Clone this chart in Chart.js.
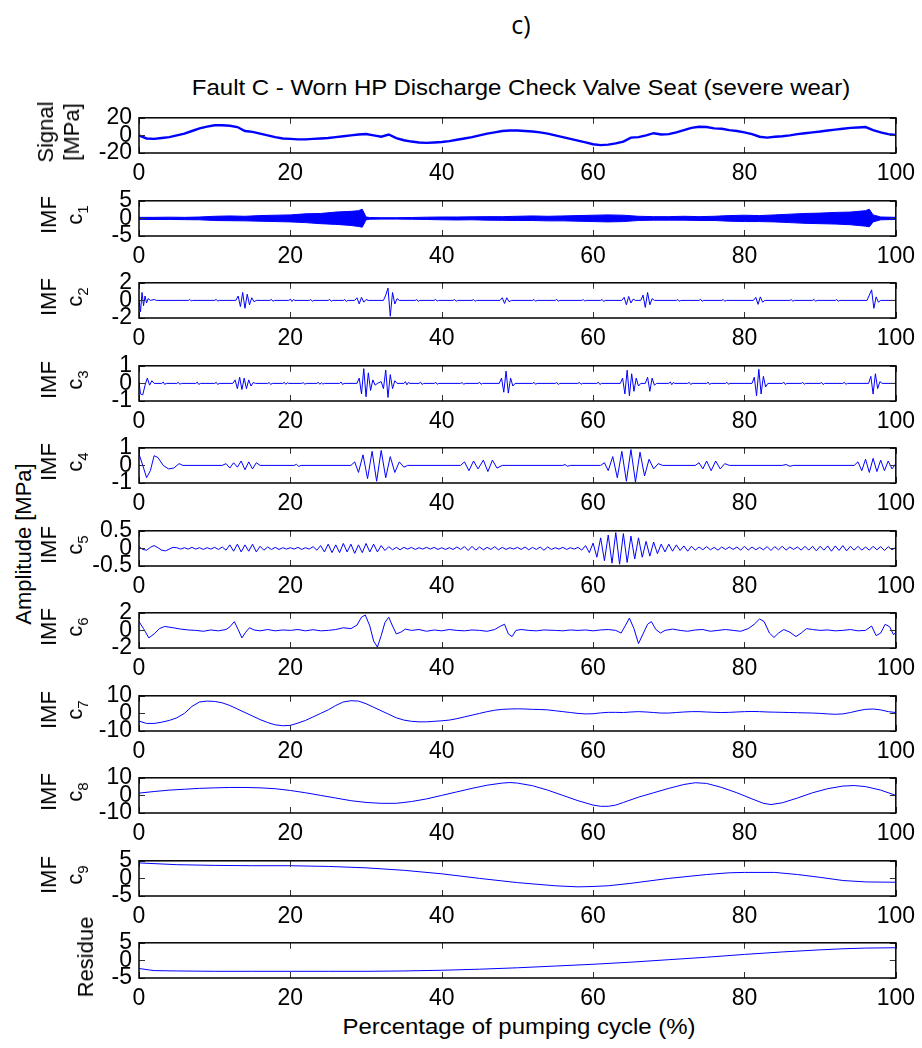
<!DOCTYPE html>
<html>
<head>
<meta charset="utf-8">
<title>Fault C - EMD</title>
<script src="https://cdn.jsdelivr.net/npm/chart.js"></script>
<style>
  body { margin: 0; background: #fff; }
  #wrap { position: relative; width: 922px; height: 1048px; overflow: hidden; font-family: 'Liberation Sans', Arial, sans-serif; color: #000; }
  #wrap canvas { position: absolute; left: 0; }
  .tag { position: absolute; left: 521px; top: 24px; transform: translate(-50%, -50%); font: 25px 'Open Sans', sans-serif; }
  .title, .xlab { position: absolute; white-space: nowrap; font-size: 22px; transform: translate(-50%, -50%) scaleX(1.09); }
  .title { left: 521px; top: 88px; }
  .xlab { left: 519px; top: 1027px; }
  .ylab { position: absolute; white-space: nowrap; font-size: 22px; line-height: 26px; text-align: center; transform: translate(-50%, -50%) rotate(-90deg); }
  .ylab sub { font-size: 15px; vertical-align: -6px; line-height: 0; }
</style>
</head>
<body>
<div id="wrap">
  <div class="tag">c)</div>
  <div class="title">Fault C - Worn HP Discharge Check Valve Seat (severe wear)</div>
  <div class="ylab" style="left:24px; top:544px;">Amplitude [MPa]</div>
  <div class="xlab">Percentage of pumping cycle (%)</div>
</div>
<script>
// pressure signal, one sample per 1 % of cycle
const signal = [0,-3.5,-4,-3,-2,0,2,5,8,10,
  11.5,11.5,11,9.5,5,4,2,0,-2,-3.5,
  -4,-4.5,-4.5,-4,-3.5,-3,-2,-1,0,1,
  1.5,0,-1.5,1,-3,-5.5,-7,-8,-8.5,-8,
  -7.5,-6.5,-5,-3.5,-2,0,2,3.5,5,5.5,
  5.5,5,4.5,3.5,2,0,-2,-4,-6,-8,
  -10,-11,-10.5,-9,-7,-2.5,-2,0,2.5,1,
  1.5,3.5,6,8.5,9.8,9.5,8,7.5,6,5,
  3.5,1.5,-1.5,-2.5,-1.5,-1,0,1.5,2.5,3.5,
  4.4,5.5,6.5,7.5,8.5,9,9.5,6,3.5,1.5,
  0.5];

// IMF c1 is a dense high-frequency band: upper/lower envelope
const c1X  = [0,2,4,6,8,10,12,14,16,18,20,22,24,26,28,29,29.5,30,30.5,32,34,36,38,40,42,44,46,48,50,52,54,56,58,60,62,64,66,68,70,72,74,76,78,80,82,84,86,88,90,92,94,95,96,96.5,97,98,100];
const c1Hi = [0.3,0.3,0.35,0.3,0.4,0.6,0.7,0.6,0.8,0.9,1.0,1.3,1.4,1.8,2.0,2.2,2.6,0.4,0.25,0.2,0.2,0.25,0.35,0.4,0.4,0.45,0.5,0.5,0.6,0.7,0.6,0.7,0.8,0.9,1.0,0.9,0.6,0.5,0.5,0.6,0.5,0.6,0.8,0.9,0.8,1.0,1.2,1.4,1.5,1.7,1.8,2.0,2.2,2.6,1.0,0.4,0.3];
const c1Lo = [-0.3,-0.3,-0.3,-0.35,-0.4,-0.6,-0.65,-0.7,-0.8,-0.9,-1.0,-1.2,-1.5,-1.7,-2.0,-2.3,-2.5,-0.4,-0.25,-0.2,-0.2,-0.25,-0.3,-0.4,-0.45,-0.4,-0.5,-0.55,-0.6,-0.6,-0.7,-0.7,-0.8,-0.9,-1.0,-0.9,-0.6,-0.5,-0.5,-0.5,-0.6,-0.6,-0.8,-0.9,-0.9,-1.0,-1.2,-1.4,-1.5,-1.6,-1.8,-2.0,-2.2,-2.4,-1.0,-0.4,-0.3];

const c2 = [[0,0],[0.2,-1.3],[0.4,0.9],[0.6,-0.6],[0.8,0.5],[1.0,-0.3],[1.2,0.2],[1.5,0],[2.0,0.1],[2.3,0],
  [6.5,0],[6.7,0.1],[6.9,-0.05],[7.1,0],[10.0,0],[10.2,0.12],[10.4,-0.08],[10.6,0],
  [12.8,0],[13.1,0.5],[13.4,-0.7],[13.7,0.9],[14.0,-0.9],[14.3,0.7],[14.6,-0.5],[14.9,0.3],[15.2,-0.15],[15.5,0],
  [17.3,0],[17.5,0.12],[17.7,-0.1],[17.9,0],[19.8,0],[20.0,0.15],[20.2,-0.12],[20.4,0.1],[20.6,0],
  [22.5,0],[22.7,0.1],[22.9,-0.1],[23.1,0],[25.0,0],[25.2,0.12],[25.4,-0.1],[25.6,0],
  [27.0,0],[27.2,0.1],[27.4,-0.12],[27.6,0],
  [28.5,0],[28.8,0.3],[29.1,-0.4],[29.4,0.35],[29.7,-0.2],[30.0,0.1],[30.3,0],
  [32.3,0],[32.6,0.6],[32.9,1.4],[33.2,-1.8],[33.5,0.9],[33.8,-0.4],[34.1,0.2],[34.4,0],
  [36.5,0],[36.7,0.1],[36.9,-0.1],[37.1,0],[39.0,0],[39.2,0.12],[39.4,-0.08],[39.6,0],
  [41.5,0],[41.7,0.1],[41.9,-0.1],[42.1,0],[44.0,0],[44.2,0.1],[44.4,-0.1],[44.6,0],
  [47.7,0],[48.0,0.3],[48.3,-0.35],[48.6,0.3],[48.9,-0.15],[49.2,0],
  [52.0,0],[52.2,0.1],[52.4,-0.1],[52.6,0],[55.0,0],[55.2,0.12],[55.4,-0.1],[55.6,0],
  [58.5,0],[58.7,0.1],[58.9,-0.08],[59.1,0],[61.0,0],[61.2,0.1],[61.4,-0.12],[61.6,0],
  [63.8,0],[64.1,0.35],[64.4,-0.5],[64.7,0.45],[65.0,-0.3],[65.3,0.15],[65.6,0],
  [66.3,0],[66.6,0.6],[66.9,-0.8],[67.2,0.9],[67.5,-0.5],[67.8,0.2],[68.1,0],
  [71.0,0],[71.2,0.1],[71.4,-0.1],[71.6,0],[74.0,0],[74.2,0.12],[74.4,-0.1],[74.6,0],
  [77.0,0],[77.2,0.1],[77.4,-0.1],[77.6,0],
  [81.2,0],[81.5,0.35],[81.8,-0.45],[82.1,0.4],[82.4,-0.2],[82.7,0],
  [86.0,0],[86.2,0.1],[86.4,-0.1],[86.6,0],[89.0,0],[89.2,0.12],[89.4,-0.1],[89.6,0],
  [92.0,0],[92.2,0.1],[92.4,-0.1],[92.6,0],
  [96.2,0],[96.5,0.6],[96.8,1.2],[97.1,-0.9],[97.4,0.4],[97.7,-0.2],[98.0,0],[100,0]];

const c3 = [[0,0.1],[0.2,-0.6],[0.5,-0.65],[0.8,-0.1],[1.1,0.3],[1.4,-0.1],[1.7,0.15],[2.0,0],
  [3.0,0],[3.2,0.08],[3.4,-0.06],[3.6,0],[5.0,0],[5.2,0.06],[5.4,-0.05],[5.6,0],
  [7.5,0],[7.7,0.07],[7.9,-0.06],[8.1,0],[10.0,0],[10.2,0.06],[10.4,-0.06],[10.6,0],
  [12.4,0],[12.7,0.2],[13.0,-0.3],[13.3,0.35],[13.6,-0.35],[13.9,0.3],[14.2,-0.3],[14.5,0.2],[14.8,-0.15],[15.1,0.05],[15.4,0],
  [17.0,0],[17.2,0.05],[17.4,-0.06],[17.6,0],[19.0,0],[19.2,0.06],[19.4,-0.05],[19.6,0.04],[19.8,0],
  [21.5,0],[21.7,0.05],[21.9,-0.05],[22.1,0],[23.5,0],[23.7,0.06],[23.9,-0.05],[24.1,0.04],[24.3,-0.04],[24.5,0],
  [26.5,0],[26.7,0.08],[26.9,-0.06],[27.1,0],
  [28.8,0],[29.1,0.3],[29.4,-0.6],[29.7,0.84],[30.0,-0.76],[30.3,0.6],[30.6,-0.4],[30.9,0.2],[31.2,-0.1],[31.5,0],
  [32.0,0.1],[32.3,-0.3],[32.6,0.76],[32.9,-0.8],[33.2,0.5],[33.5,-0.3],[33.8,0.15],[34.1,0],
  [35.0,0],[35.2,0.1],[35.4,-0.08],[35.6,0.06],[35.8,0],[37.0,0],[37.2,0.07],[37.4,-0.06],[37.6,0],
  [39.0,0],[39.2,0.06],[39.4,-0.05],[39.6,0],[42.5,0],[42.7,0.05],[42.9,-0.05],[43.1,0],
  [44.8,0],[45.0,0.06],[45.2,-0.05],[45.4,0],
  [47.6,0],[47.9,0.3],[48.2,-0.5],[48.5,0.7],[48.8,-0.55],[49.1,0.3],[49.4,-0.15],[49.7,0],
  [52.0,0],[52.2,0.06],[52.4,-0.05],[52.6,0],[55.0,0],[55.2,0.05],[55.4,-0.06],[55.6,0],
  [58.0,0],[58.2,0.06],[58.4,-0.05],[58.6,0],[60.5,0],[60.7,0.07],[60.9,-0.06],[61.1,0],
  [63.6,0],[63.9,0.3],[64.2,-0.6],[64.5,0.75],[64.8,-0.7],[65.1,0.55],[65.4,-0.45],[65.7,0.3],[66.0,-0.15],[66.3,0],
  [66.9,0],[67.2,0.35],[67.5,-0.45],[67.8,0.3],[68.1,-0.1],[68.4,0],
  [70.0,0],[70.2,0.08],[70.4,-0.07],[70.6,0.05],[70.8,0],[72.5,0],[72.7,0.06],[72.9,-0.06],[73.1,0],
  [75.0,0],[75.2,0.07],[75.4,-0.06],[75.6,0],[77.5,0],[77.7,0.06],[77.9,-0.05],[78.1,0],
  [81.0,0],[81.3,0.35],[81.6,-0.7],[81.9,0.8],[82.2,-0.6],[82.5,0.4],[82.8,-0.2],[83.1,0],
  [85.0,0],[85.2,0.07],[85.4,-0.06],[85.6,0],[87.5,0],[87.7,0.06],[87.9,-0.05],[88.1,0],
  [90.0,0],[90.2,0.05],[90.4,-0.06],[90.6,0],[93.0,0],[93.2,0.06],[93.4,-0.05],[93.6,0],
  [96.4,0],[96.7,0.4],[97.0,-0.6],[97.3,0.55],[97.6,-0.3],[97.9,0.1],[98.2,0],[100,0]];

const c4 = [[0,0.64],[0.5,0],[1.0,-0.7],[1.5,-0.3],[2.0,0.55],[2.5,0.45],[3.2,0],[3.9,-0.2],[4.6,-0.15],[5.3,0.1],[5.8,0],
  [11.0,0],[11.5,0.1],[12.0,-0.15],[12.5,0.15],[13.0,-0.1],[13.5,0.25],[14.0,-0.25],[14.5,0.2],[15.0,-0.2],[15.5,0.15],[16.0,0],
  [20.5,0],[20.8,0.06],[21.1,-0.06],[21.4,0],
  [28.0,0],[28.5,0.2],[29.0,-0.4],[29.6,0.6],[30.2,-0.75],[30.8,0.8],[31.4,-0.9],[32.0,0.85],[32.6,-0.7],[33.2,0.5],[33.8,-0.4],[34.4,0.2],[35.0,-0.1],[35.5,0],
  [42.5,0],[43.0,0.2],[43.6,-0.3],[44.2,0.25],[44.8,-0.2],[45.5,0.3],[46.1,-0.35],[46.7,0.3],[47.3,-0.15],[48.0,0],
  [56.0,0],[56.3,0.05],[56.6,-0.05],[57.0,0],
  [61.0,0],[61.5,0.15],[62.0,-0.3],[62.6,0.5],[63.2,-0.7],[63.8,0.8],[64.4,-0.9],[65.0,0.9],[65.6,-0.95],[66.2,0.75],[66.8,-0.6],[67.4,0.35],[68.0,-0.2],[68.6,0.1],[69.2,0],
  [73.5,0],[74.0,0.15],[74.5,-0.2],[75.0,0.25],[75.6,-0.3],[76.2,0.25],[76.8,-0.2],[77.4,0.1],[78.0,0],
  [85.0,0],[85.5,0.05],[86.0,-0.05],[86.5,0],
  [94.5,0],[95.0,0.2],[95.5,-0.3],[96.0,0.35],[96.5,-0.4],[97.0,0.4],[97.5,-0.35],[98.0,0.3],[98.5,-0.3],[99.0,0.25],[99.5,-0.2],[100,0.1]];

// IMF c5, one sample per 0.5 % of cycle
const c5 = [0.05,
  -0.03,-0.05,0.03,0.08,0.02,-0.05,-0.07,-0.02,0.03,0.02,-0.02,0.02,-0.02,0.03,-0.02,0.02,-0.03,0.02,-0.02,0.03,
  -0.03,0.04,-0.05,0.1,-0.08,0.12,-0.1,0.1,-0.08,0.12,-0.1,0.06,-0.05,0.04,-0.03,0.03,-0.03,0.02,-0.02,0.02,
  -0.02,0.03,-0.03,0.02,-0.02,0.05,-0.05,0.08,-0.1,0.12,-0.12,0.1,-0.12,0.14,-0.1,0.12,-0.14,0.1,-0.12,0.14,
  -0.1,0.12,-0.1,0.08,-0.06,0.05,-0.04,0.03,-0.04,0.03,-0.02,0.03,-0.03,0.02,-0.02,0.03,-0.02,0.03,-0.03,0.02,
  -0.03,0.02,-0.03,0.04,-0.03,0.05,-0.06,0.06,-0.05,0.04,-0.04,0.03,-0.03,0.05,-0.04,0.03,-0.03,0.02,-0.02,0.03,
  -0.03,0.04,-0.04,0.03,-0.03,0.04,-0.05,0.04,-0.03,0.02,-0.02,0.03,-0.03,0.02,-0.02,0.03,-0.05,0.08,-0.12,0.15,
  -0.25,0.3,-0.35,0.38,-0.42,0.45,-0.45,0.42,-0.4,0.35,-0.3,0.3,-0.25,0.2,-0.22,0.18,-0.15,0.12,-0.1,0.12,
  -0.08,0.1,-0.06,0.07,-0.08,0.06,-0.05,0.04,-0.04,0.05,-0.04,0.03,-0.05,0.04,-0.03,0.04,-0.03,0.04,-0.05,0.06,
  -0.05,0.04,-0.04,0.03,-0.04,0.05,-0.06,0.05,-0.04,0.06,-0.05,0.04,-0.03,0.04,-0.05,0.06,-0.05,0.06,-0.07,0.06,
  -0.05,0.07,-0.08,0.07,-0.06,0.08,-0.07,0.06,-0.05,0.06,-0.05,0.04,-0.05,0.06,-0.04,0.05,-0.06,0.05,-0.04,0.03];

const c6 = [[0,1.0],[0.6,0.2],[1.3,-0.85],[2.0,-0.4],[2.7,0.2],[3.4,0.45],[4.5,0.3],[5.5,0.15],[6.5,0.05],[7.5,0],
  [8.5,-0.1],[9.5,0.05],[10.5,-0.05],[11.5,0.1],[12.0,0.4],[12.6,1.0],[13.1,0.1],[13.6,-0.85],[14.1,-0.2],[14.6,0.3],[15.2,0.05],
  [16,-0.05],[17,0.1],[18,-0.05],[19,0.05],[20,0],[21,0.1],[22,-0.05],[23,0.08],[24,-0.05],[25,0],[26,0.1],[27,0.3],[28,0.2],
  [28.8,0.6],[29.4,1.5],[29.9,1.75],[30.5,0.5],[31.0,-1.2],[31.5,-1.9],[32.0,-0.6],[32.5,0.9],[33.0,1.5],[33.5,0.5],[34.0,-0.4],[34.6,-0.2],[35.2,0.15],
  [36,0],[37,0.1],[38,-0.1],[39,0.05],[40,-0.05],[41,0.1],[42,0],[43,-0.05],[44,0.05],[45,0],[46,-0.1],[47,0.1],
  [47.8,0.5],[48.3,0.7],[48.8,-0.4],[49.3,-0.7],[49.8,0],[50.5,0.1],[51.5,0],[52.5,-0.05],[53.5,0.05],
  [55,0],[56,-0.05],[57,0.05],[58,0],[59,0.05],[60,-0.05],[61,0.05],[62,0.1],[63,0],
  [63.7,-0.3],[64.3,0.6],[64.8,1.4],[65.4,0.2],[66.0,-1.5],[66.6,-0.4],[67.2,0.7],[67.7,1.0],[68.3,0.1],[68.9,-0.3],[69.5,0],
  [70.5,0.15],[71.5,0],[72.5,-0.1],[73.5,0.05],[74.5,0.1],[75.5,-0.1],[76.5,0],[77.5,0.1],[78.5,0],[79.5,-0.1],
  [80.5,0.2],[81.3,0.7],[82.0,1.3],[82.6,1.0],[83.3,-0.3],[83.9,-0.8],[84.5,-0.3],[85.2,0.1],[86.0,-0.2],[86.8,-0.7],[87.5,-0.3],[88.2,0.2],
  [89,0.1],[90,0],[91,0.05],[92,-0.05],[93,0],[94,0.1],[95,-0.05],[96,0],
  [96.8,0.5],[97.4,-0.6],[98.0,-0.3],[98.6,0.7],[99.2,0.4],[99.7,-0.5],[100,-0.2]];

// IMF c7, one sample per 1 % of cycle
const c7 = [-4.4,-5.7,-5.7,-5,-4,-2.5,0,4,6.5,7,
  6.8,6,4.5,2.5,0.5,-1.5,-3.5,-5.2,-6.5,-7,
  -6.8,-5.5,-4,-2,0,2,4.5,6.5,7.2,7,
  5.5,3.5,1.5,-0.5,-2.5,-3.8,-4.5,-4.8,-4.8,-4.5,
  -4.2,-3.8,-3,-2,-1,0,1,1.8,2.3,2.5,
  2.6,2.5,2.3,2.2,2,1.5,1,0.5,0,-0.3,
  -0.2,0.3,0.6,0.6,0.5,0.8,1,0.8,0.5,0.2,
  0.2,0.5,0.8,1,1,0.8,0.6,0.5,0.6,0.8,
  1,1.1,1,0.8,0.7,0.6,0.5,0.4,0.3,0.2,
  0,-0.3,-0.5,-0.3,0.5,1.5,2.3,2.5,2,1,
  0.5];

const c8 = [[0,1.3],[2,2.2],[4,3],[6,3.5],[8,4],[10,4.3],[12,4.5],[14,4.5],[16,4.3],[18,3.8],[20,2.8],[22,1.5],[24,0],
  [26,-1.5],[28,-3],[30,-4],[32,-4.5],[34,-4.5],[36,-3.5],[38,-2],[40,0],[42,2],[44,4],[46,5.8],[48,7],[49,7.3],[50,7],
  [52,5.5],[54,3],[56,0],[58,-3],[60,-5.5],[61,-6.2],[62,-6.2],[63,-5.5],[64,-4],[66,-1],[68,1.5],[70,4],[72,6.2],
  [73.5,7.2],[75,6.8],[77,4.5],[79,1.5],[81,-2],[82.5,-4.5],[83.5,-5.2],[85,-4.2],[87,-1.5],[89,1.5],[91,3.8],[93,5.3],
  [94.5,5.6],[96,5],[98,3],[100,0]];

const c9 = [[0,4.4],[5,3.9],[10,3.7],[15,3.6],[20,3.6],[25,3.4],[30,3],[35,2.3],[40,1.3],[45,0],[50,-1.2],[55,-2.1],
  [58,-2.4],[60,-2.3],[62,-2.1],[65,-1.4],[70,0],[75,1.1],[78,1.6],[80,1.7],[84,1.7],[87,1.1],[90,0.3],[93,-0.6],[96,-1.0],[100,-1.1]];

const residue = [[0,-2.3],[2,-2.9],[5,-3],[10,-3.1],[15,-3.1],[20,-3.1],[25,-3.1],[30,-3.1],[35,-3.0],[40,-2.8],[45,-2.5],
  [50,-2.1],[55,-1.6],[60,-1.1],[65,-0.5],[70,0.2],[75,0.9],[80,1.7],[85,2.4],[90,3],[93,3.3],[96,3.5],[100,3.6]];

// y limits (symmetric) and axis labels of each subplot
const yLimits = [20, 5, 2, 1, 1, 0.5, 2, 10, 10, 5, 5];
const yLabels = [['Signal', '[MPa]'], ['IMF', 'c<sub>1</sub>'], ['IMF', 'c<sub>2</sub>'], ['IMF', 'c<sub>3</sub>'],
  ['IMF', 'c<sub>4</sub>'], ['IMF', 'c<sub>5</sub>'], ['IMF', 'c<sub>6</sub>'], ['IMF', 'c<sub>7</sub>'],
  ['IMF', 'c<sub>8</sub>'], ['IMF', 'c<sub>9</sub>'], ['Residue']];
const xTicks = [0, 20, 40, 60, 80, 100];

const BLUE = '#0000ff';
const uniform = (arr, step) => arr.map((v, i) => ({ x: i * step, y: v }));
const pairs = arr => arr.map(p => ({ x: p[0], y: p[1] }));
const line = (pts, w) => ({ data: pts, borderColor: BLUE, borderWidth: w || 1, pointRadius: 0, fill: false, tension: 0 });

const seriesSets = [
  [line(uniform(signal, 1), 2.4)],
  [
    { data: c1X.map((x, i) => ({ x, y: c1Hi[i] })), borderColor: BLUE, backgroundColor: BLUE, borderWidth: 1, pointRadius: 0, fill: '+1' },
    { data: c1X.map((x, i) => ({ x, y: c1Lo[i] })), borderColor: BLUE, borderWidth: 1, pointRadius: 0, fill: false }
  ],
  [line(pairs(c2))],
  [line(pairs(c3))],
  [line(pairs(c4))],
  [line(uniform(c5, 0.5))],
  [line(pairs(c6))],
  [line(uniform(c7, 1))],
  [line(pairs(c8))],
  [line(pairs(c9))],
  [line(pairs(residue))]
];

// MATLAB-like frame with inward tick marks
const matlabFrame = {
  id: 'matlabFrame',
  afterDatasetsDraw(chart) {
    const { ctx, chartArea: a, scales: { x, y } } = chart;
    const len = 6;
    ctx.save();
    ctx.strokeStyle = '#333';
    ctx.lineWidth = 1;
    ctx.beginPath();
    x.ticks.forEach(t => {
      const px = Math.round(x.getPixelForValue(t.value)) + 0.5;
      ctx.moveTo(px, a.top); ctx.lineTo(px, a.top + len);
      ctx.moveTo(px, a.bottom); ctx.lineTo(px, a.bottom - len);
    });
    y.ticks.forEach(t => {
      const py = Math.round(y.getPixelForValue(t.value)) + 0.5;
      ctx.moveTo(a.left, py); ctx.lineTo(a.left + len, py);
      ctx.moveTo(a.right, py); ctx.lineTo(a.right - len, py);
    });
    ctx.stroke();
    ctx.strokeStyle = '#000';
    ctx.lineWidth = 1.5;
    ctx.strokeRect(a.left, a.top, a.right - a.left, a.bottom - a.top);
    ctx.restore();
  }
};

Chart.defaults.font.family = "'Liberation Sans', Arial, sans-serif";
Chart.defaults.font.size = 23;
Chart.defaults.color = '#000';

const wrap = document.getElementById('wrap');
const PAD_TOP = 14, BOX_H = 42, AXIS_H = 40;

seriesSets.forEach((datasets, i) => {
  const boxTop = Math.round(111 + 82.5 * i);
  const cv = document.createElement('canvas');
  cv.width = 922;
  cv.height = PAD_TOP + BOX_H + AXIS_H;
  cv.style.top = (boxTop - PAD_TOP) + 'px';
  wrap.appendChild(cv);

  const lim = yLimits[i];
  new Chart(cv.getContext('2d'), {
    type: 'line',
    data: { datasets },
    options: {
      responsive: false,
      animation: false,
      events: [],
      layout: { padding: { top: PAD_TOP, right: 23, left: 0, bottom: 0 } },
      plugins: { legend: { display: false }, tooltip: { enabled: false } },
      scales: {
        x: {
          type: 'linear', min: 0, max: 100,
          afterBuildTicks: s => { s.ticks = xTicks.map(v => ({ value: v })); },
          ticks: { padding: 7, maxRotation: 0, autoSkip: false },
          grid: { display: false, drawTicks: false },
          border: { display: false },
          afterFit: s => { s.height = AXIS_H; }
        },
        y: {
          min: -lim, max: lim,
          afterBuildTicks: s => { s.ticks = [-lim, 0, lim].map(v => ({ value: v })); },
          ticks: { padding: 7, autoSkip: false },
          grid: { display: false, drawTicks: false },
          border: { display: false },
          afterFit: s => { s.width = 139; }
        }
      }
    },
    plugins: [matlabFrame]
  });

  // rotated y label next to the axis
  const lab = document.createElement('div');
  lab.className = 'ylab';
  lab.style.left = (i === 0 ? 59 : (i === 10 ? 86 : 62)) + 'px';
  lab.style.top = (boxTop + BOX_H / 2) + 'px';
  lab.innerHTML = yLabels[i].join('<br>');
  wrap.appendChild(lab);
});
</script>
</body>
</html>
